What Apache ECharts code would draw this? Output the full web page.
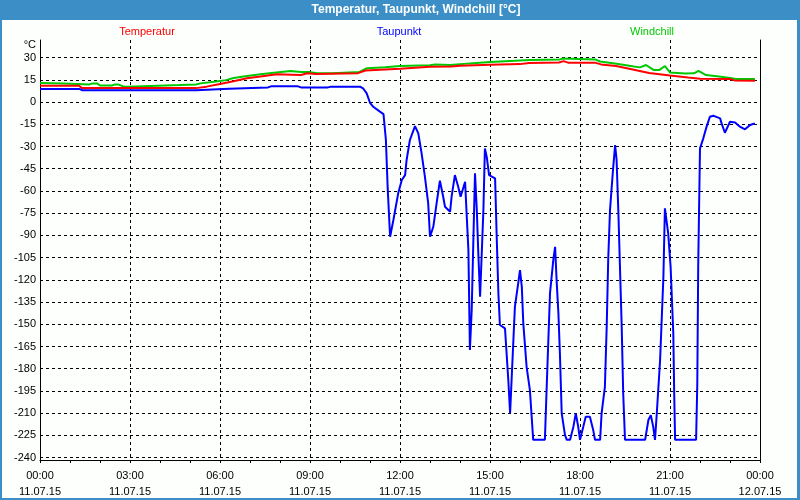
<!DOCTYPE html>
<html>
<head>
<meta charset="utf-8">
<script src="https://cdn.jsdelivr.net/npm/echarts@6/dist/echarts.min.js"></script>
<style>
html,body{margin:0;padding:0;background:#fdfffd;}
#chart{width:800px;height:500px;}
</style>
</head>
<body>
<div id="chart"></div>
<script>
// ---- data (time in hours since 11.07.15 00:00) ----
const tempTimes = [0,1.3,1.4,5.2,5.55,6.0,6.45,6.9,7.35,7.9,8.4,8.7,8.9,9.2,10.6,10.85,11.5,12.0,13.0,13.7,14.0,15.0,16.0,16.3,17.3,17.45,17.6,18.5,18.7,19.2,19.8,20.3,21.0,21.6,22.0,23.0,23.15,23.83];
const tempValues = [11.0,11.0,9.4,9.4,10.4,12.2,14.0,16.0,17.3,18.7,18.4,18.2,19.4,18.9,19.5,21.3,22.0,22.4,23.9,24.0,24.5,25.2,25.6,26.4,26.7,27.6,26.6,26.6,25.4,24.3,21.8,19.6,17.9,16.6,15.8,15.5,14.6,14.4];

const chillTimes = [0,0.8,0.85,1.65,1.75,1.9,2.0,2.4,2.5,2.6,2.8,2.95,3.0,4.65,4.7,5.2,5.35,5.8,6.2,6.45,6.9,7.35,7.8,8.35,8.7,9.0,9.25,9.75,9.8,10.65,10.9,11.5,12.0,13.0,13.17,13.67,14.33,15.0,16.33,17.33,17.44,18.5,18.67,19.22,19.8,20.0,20.2,20.45,20.65,20.83,21.0,21.5,21.8,21.95,22.2,22.7,23.0,23.2,23.83];
const chillValues = [12.8,12.6,11.9,11.9,12.6,12.6,11.2,11.2,11.9,11.9,10.4,10.4,11.5,11.5,11.9,11.9,12.6,13.7,14.8,16.2,17.6,18.7,19.8,20.9,20.2,20.2,19.4,19.4,20.0,20.3,22.8,23.5,24.3,24.8,25.4,25.0,26.1,27.0,28.4,28.8,29.4,28.8,27.4,25.8,24.0,23.4,25.0,21.7,21.7,24.3,20.0,19.2,19.4,21.0,18.2,17.1,16.2,15.6,15.6];

const dewTimes = [0,1.33,1.4,5.2,5.25,6.3,6.35,7.6,7.7,8.6,8.7,9.6,9.7,10.67,10.72,10.78,10.89,11.0,11.11,11.33,11.45,11.5,11.53,11.59,11.67,11.78,11.94,12.06,12.17,12.22,12.33,12.5,12.61,12.72,12.83,12.94,13.0,13.11,13.22,13.33,13.44,13.5,13.67,13.72,13.83,13.94,14.02,14.17,14.22,14.28,14.33,14.39,14.44,14.5,14.56,14.61,14.67,14.78,14.83,14.89,14.97,15.17,15.22,15.28,15.33,15.5,15.61,15.67,15.72,15.83,15.94,16.0,16.06,16.11,16.22,16.33,16.44,16.83,16.89,17.0,17.11,17.17,17.22,17.28,17.33,17.39,17.5,17.56,17.67,17.78,17.86,17.94,18.0,18.11,18.19,18.33,18.44,18.5,18.67,18.72,18.83,18.89,18.94,19.0,19.1,19.17,19.22,19.28,19.39,19.44,19.5,20.17,20.28,20.36,20.44,20.5,20.56,20.67,20.78,20.83,20.89,20.94,21.02,21.11,21.14,21.17,21.87,21.91,21.94,21.97,22.0,22.11,22.22,22.33,22.44,22.67,22.72,22.83,23.0,23.17,23.33,23.5,23.67,23.83];
const dewValues = [8.8,8.8,8.0,8.0,9.0,9.0,9.9,9.9,10.6,10.6,9.9,9.9,10.4,10.4,10.0,9.0,5.9,-0.5,-3.2,-6.5,-8.1,-8.5,-25.6,-58.3,-90.9,-79.6,-61.6,-52.6,-49.3,-39.1,-25.6,-16.2,-21.2,-34.7,-50.4,-68.4,-90.9,-84.2,-68.4,-53.1,-63.9,-70.7,-74.0,-63.9,-49.3,-57.2,-63.9,-53.8,-75.1,-99.9,-167.4,-140.4,-97.7,-48.1,-72.9,-102.1,-131.4,-72.9,-31.3,-36.9,-49.3,-51.5,-88.6,-129.2,-150.5,-152.8,-187.6,-210.1,-187.6,-138.2,-122.4,-113.4,-124.6,-149.4,-178.7,-194.4,-228,-228,-192.2,-129.2,-106.6,-97.7,-120.2,-142.6,-169.6,-210.1,-224.8,-228,-228,-219.1,-210.1,-219.1,-228,-219.1,-212.4,-212.4,-221.3,-228,-228,-210.1,-192.2,-151.6,-106.6,-72.9,-45.9,-29.0,-39.1,-75.1,-151.6,-196.6,-228,-228,-214.6,-211.3,-219.1,-228,-210.1,-174.2,-117.9,-71.7,-72.0,-88.6,-111.1,-156.1,-196.6,-228,-228,-189.9,-111.1,-70.7,-31.3,-24.5,-16.6,-9.9,-9.2,-11.0,-14.4,-20.7,-13.3,-13.8,-16.6,-18.4,-15.5,-14.4];

const xTickTimes = ['00:00','03:00','06:00','09:00','12:00','15:00','18:00','21:00','00:00'];
const xTickDates = ['11.07.15','11.07.15','11.07.15','11.07.15','11.07.15','11.07.15','11.07.15','11.07.15','12.07.15'];
const seriesNames = ['Temperatur','Taupunkt','Windchill'];

const pairs = (t, v) => t.map((x, i) => [x, v[i]]);
const FONT = 'Liberation Sans';
const BLUE_FRAME = '#3c8fc6';

const chart = echarts.init(document.getElementById('chart'));
chart.setOption({
  animation: false,
  backgroundColor: '#fdfffd',
  title: {
    text: 'Temperatur, Taupunkt, Windchill [°C]',
    left: 416, top: 3, padding: 0, textAlign: 'center', z: 20,
    textStyle: { color: '#ffffff', fontFamily: FONT, fontSize: 12, fontWeight: 'bold', lineHeight: 14 }
  },
  graphic: { elements: [
    { type: 'rect', z: 1, shape: { x: 0, y: 0, width: 800, height: 20 }, style: { fill: BLUE_FRAME } },
    { type: 'rect', z: 1, shape: { x: 0, y: 0, width: 2, height: 500 }, style: { fill: BLUE_FRAME } },
    { type: 'rect', z: 1, shape: { x: 797, y: 0, width: 3, height: 500 }, style: { fill: BLUE_FRAME } },
    { type: 'rect', z: 1, shape: { x: 0, y: 498, width: 800, height: 2 }, style: { fill: BLUE_FRAME } },
    { type: 'text', z: 5, x: 147, y: 32, style: { text: seriesNames[0], fill: '#ff0000', font: '11px ' + FONT, textAlign: 'center', textVerticalAlign: 'middle' } },
    { type: 'text', z: 5, x: 399, y: 32, style: { text: seriesNames[1], fill: '#0000ff', font: '11px ' + FONT, textAlign: 'center', textVerticalAlign: 'middle' } },
    { type: 'text', z: 5, x: 652, y: 32, style: { text: seriesNames[2], fill: '#00c800', font: '11px ' + FONT, textAlign: 'center', textVerticalAlign: 'middle' } }
  ]},
  grid: [
    { left: 40, right: 40, top: 40, bottom: 40 },
    { left: 40, right: 40, top: 57.6, bottom: 42.4 }
  ],
  xAxis: [
    {
      gridIndex: 0, type: 'value', min: 0, max: 24, interval: 3,
      axisLine: { show: true, lineStyle: { color: '#000', width: 1 } },
      axisTick: { show: true, length: 3, inside: false, lineStyle: { color: '#000' } },
      minorTick: { show: true, splitNumber: 3, length: 3, lineStyle: { color: '#000' } },
      splitLine: { show: true, lineStyle: { color: '#000', type: [3, 3], width: 1 } },
      axisLabel: {
        margin: 8, color: '#000', fontFamily: FONT, fontSize: 11, lineHeight: 16,
        formatter: v => { const i = Math.round(v / 3); return xTickTimes[i] + '\n' + xTickDates[i]; }
      }
    },
    { gridIndex: 1, type: 'value', min: 0, max: 24, show: false }
  ],
  yAxis: [
    { gridIndex: 0, type: 'value', min: 0, max: 1, position: 'left',
      axisLine: { show: true, lineStyle: { color: '#000' } }, axisTick: { show: false },
      axisLabel: { show: false }, splitLine: { show: false } },
    { gridIndex: 0, type: 'value', min: 0, max: 1, position: 'right',
      axisLine: { show: true, lineStyle: { color: '#000' } }, axisTick: { show: false },
      axisLabel: { show: false }, splitLine: { show: false } },
    { gridIndex: 1, type: 'value', min: -240, max: 30, interval: 15, position: 'left',
      name: '°C', nameLocation: 'end', nameGap: 12.6,
      nameTextStyle: { color: '#000', fontFamily: FONT, fontSize: 11, align: 'right', verticalAlign: 'middle', padding: [0, 4, 0, 0] },
      axisLine: { show: false }, axisTick: { show: false },
      axisLabel: { margin: 4, color: '#000', fontFamily: FONT, fontSize: 11 },
      splitLine: { show: true, lineStyle: { color: '#000', type: [3, 3], width: 1 } } }
  ],
  series: [
    { name: seriesNames[2], type: 'line', xAxisIndex: 1, yAxisIndex: 2, showSymbol: false,
      data: pairs(chillTimes, chillValues), lineStyle: { color: '#00c800', width: 2 }, itemStyle: { color: '#00c800' } },
    { name: seriesNames[0], type: 'line', xAxisIndex: 1, yAxisIndex: 2, showSymbol: false,
      data: pairs(tempTimes, tempValues), lineStyle: { color: '#ff0000', width: 2 }, itemStyle: { color: '#ff0000' } },
    { name: seriesNames[1], type: 'line', xAxisIndex: 1, yAxisIndex: 2, showSymbol: false,
      data: pairs(dewTimes, dewValues), lineStyle: { color: '#0000ff', width: 2 }, itemStyle: { color: '#0000ff' } }
  ]
});
</script>
</body>
</html>
